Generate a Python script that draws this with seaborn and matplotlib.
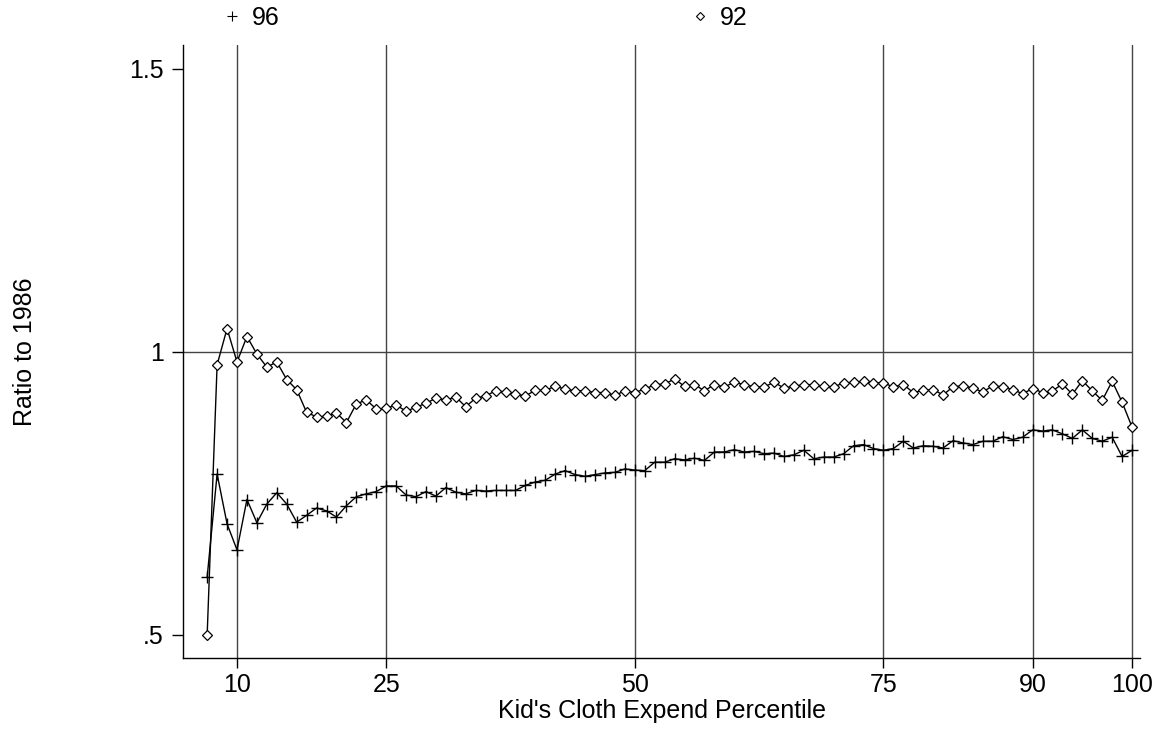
import matplotlib
matplotlib.use("Agg")
import matplotlib.pyplot as plt
from matplotlib.lines import Line2D
import seaborn as sns
import pandas as pd

percentile = list(range(7, 101))

ratio_96 = [0.602, 0.784, 0.696, 0.650, 0.739, 0.698, 0.731, 0.751, 0.731, 0.699,
            0.711, 0.724, 0.719, 0.708, 0.728, 0.744, 0.749, 0.753, 0.763, 0.763,
            0.747, 0.744, 0.753, 0.745, 0.760, 0.752, 0.749, 0.755, 0.754, 0.755,
            0.755, 0.755, 0.764, 0.770, 0.773, 0.784, 0.790, 0.783, 0.780, 0.783,
            0.786, 0.787, 0.793, 0.791, 0.790, 0.805, 0.805, 0.811, 0.809, 0.812,
            0.808, 0.823, 0.823, 0.827, 0.823, 0.824, 0.820, 0.821, 0.815, 0.818,
            0.826, 0.811, 0.814, 0.814, 0.820, 0.834, 0.836, 0.829, 0.826, 0.829,
            0.842, 0.830, 0.834, 0.833, 0.830, 0.843, 0.839, 0.836, 0.842, 0.842,
            0.850, 0.845, 0.849, 0.862, 0.860, 0.862, 0.855, 0.847, 0.862, 0.847,
            0.842, 0.849, 0.815, 0.826]

ratio_92 = [0.500, 0.977, 1.041, 0.982, 1.027, 0.996, 0.973, 0.982, 0.951, 0.933,
            0.893, 0.885, 0.886, 0.892, 0.875, 0.908, 0.915, 0.899, 0.900, 0.906,
            0.895, 0.902, 0.909, 0.918, 0.915, 0.920, 0.903, 0.918, 0.922, 0.931,
            0.929, 0.925, 0.922, 0.932, 0.932, 0.939, 0.934, 0.931, 0.931, 0.928,
            0.928, 0.923, 0.931, 0.928, 0.934, 0.942, 0.943, 0.952, 0.939, 0.942,
            0.931, 0.942, 0.938, 0.946, 0.942, 0.938, 0.938, 0.946, 0.936, 0.939,
            0.942, 0.942, 0.939, 0.938, 0.945, 0.946, 0.948, 0.945, 0.945, 0.938,
            0.942, 0.928, 0.932, 0.933, 0.924, 0.938, 0.940, 0.936, 0.929, 0.940,
            0.938, 0.933, 0.926, 0.935, 0.928, 0.931, 0.943, 0.925, 0.949, 0.931,
            0.914, 0.948, 0.911, 0.867]

x_ticks = [10, 25, 50, 75, 90, 100]
x_tick_labels = ["10", "25", "50", "75", "90", "100"]
y_ticks = [0.5, 1.0, 1.5]
y_tick_labels = [".5", "1", "1.5"]

sns.set_theme(style="white")
plt.rcParams['font.family'] = ['Liberation Sans', 'DejaVu Sans']
plt.rcParams['text.color'] = 'black'
plt.rcParams['axes.labelcolor'] = 'black'
plt.rcParams['xtick.color'] = 'black'
plt.rcParams['ytick.color'] = 'black'

df = pd.DataFrame({"pct": percentile, "r96": ratio_96, "r92": ratio_92})

fig = plt.figure(figsize=(11.62, 7.30), dpi=100)
ax = fig.add_axes([183 / 1162, 1 - 658 / 730, (1140 - 183) / 1162, (658 - 45) / 730])

ax.set_xlim(4.57, 100.8)
ax.set_ylim(0.459, 1.542)

for xv in x_ticks:
    ax.axvline(xv, color="#444444", lw=1.0, zorder=1)
ax.hlines(1.0, 4.57, 100, color="#444444", lw=1.0, zorder=1)

sns.lineplot(data=df, x="pct", y="r96", ax=ax, color="black", lw=1.0,
             marker="+", markersize=8, markeredgewidth=1.0,
             markeredgecolor="black", zorder=3)
sns.lineplot(data=df, x="pct", y="r92", ax=ax, color="black", lw=1.0,
             marker="D", markersize=5.5, markerfacecolor="white",
             markeredgecolor="black", markeredgewidth=0.9, zorder=3)

for s in ["top", "right"]:
    ax.spines[s].set_visible(False)
for s in ["left", "bottom"]:
    ax.spines[s].set_color("black")
    ax.spines[s].set_linewidth(1.0)

ax.set_xticks(x_ticks)
ax.set_xticklabels(x_tick_labels)
ax.set_yticks(y_ticks)
ax.set_yticklabels(y_tick_labels)
ax.tick_params(axis="x", direction="out", length=7, width=1, color="black",
               labelsize=18, pad=4, bottom=True, labelcolor="black")
ax.tick_params(axis="y", direction="out", length=8, width=1, color="black",
               labelsize=18, pad=6, left=True, labelcolor="black")

ax.set_xlabel("Kid's Cloth Expend Percentile", fontsize=18, labelpad=1, color="black")
ax.set_ylabel("Ratio to 1986", fontsize=18, labelpad=66, color="black")

h96 = Line2D([], [], color="black", marker="+", linestyle="none", markersize=7, markeredgewidth=0.8)
h92 = Line2D([], [], color="black", marker="D", linestyle="none", markersize=4,
             markerfacecolor="white", markeredgewidth=0.8)
fig.legend([h96], ["96"], loc="center left", bbox_to_anchor=(212 / 1162, 1 - 18 / 730),
           frameon=False, fontsize=18, handlelength=0.8, handletextpad=0.4, borderaxespad=0)
fig.legend([h92], ["92"], loc="center left", bbox_to_anchor=(680 / 1162, 1 - 18 / 730),
           frameon=False, fontsize=18, handlelength=0.8, handletextpad=0.4, borderaxespad=0)

fig.savefig("out.png", dpi=100, facecolor="white")
